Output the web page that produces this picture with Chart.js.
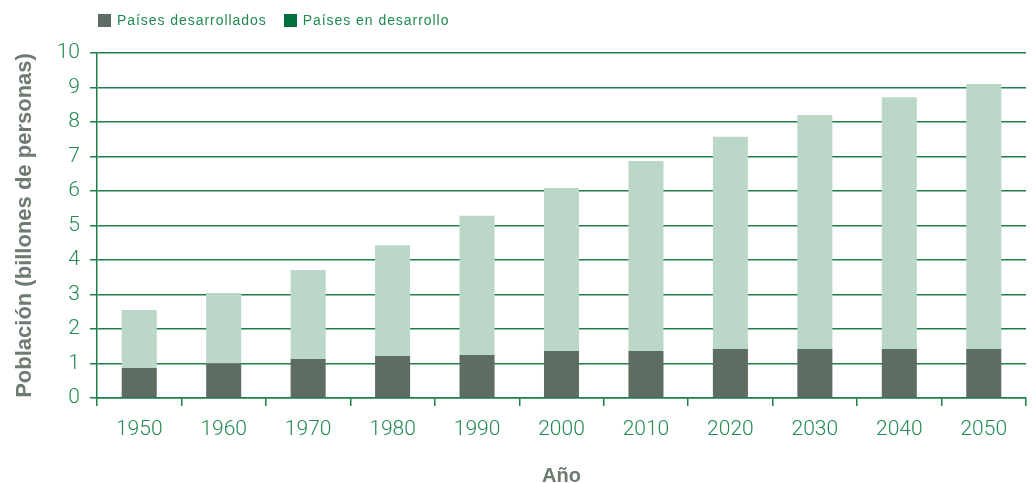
<!DOCTYPE html>
<html lang="es">
<head>
<meta charset="utf-8">
<script src="https://cdn.jsdelivr.net/npm/chart.js@4.4.1/dist/chart.umd.min.js"></script>
<style>
  html, body { margin: 0; padding: 0; background: #fff; }
  #wrap { position: relative; width: 1032px; height: 483px; }
  #legend {
    position: absolute; left: 98px; top: 12px;
    font-family: 'Liberation Sans', Arial, sans-serif; font-size: 14px;
    letter-spacing: 0.95px; color: #1f8a4f; display: flex; gap: 17px;
  }
  #legend span.item { display: flex; align-items: center; }
  #legend i { display: inline-block; width: 13px; height: 13px; margin-right: 6px; }
</style>
</head>
<body>
<div id="wrap">
  <canvas id="chart" width="1032" height="483"></canvas>
  <div id="legend"></div>
</div>
<script>
// Población mundial (billones de personas)
const years = ['1950', '1960', '1970', '1980', '1990', '2000', '2010', '2020', '2030', '2040', '2050'];
const desarrollados = [0.87, 1.00, 1.13, 1.22, 1.25, 1.36, 1.36, 1.42, 1.42, 1.42, 1.42];
const enDesarrollo = [1.68, 2.04, 2.58, 3.21, 4.03, 4.73, 5.51, 6.15, 6.78, 7.30, 7.68];
const yTicks = [0, 1, 2, 3, 4, 5, 6, 7, 8, 9, 10];

const GREEN = '#1f7d4c';
const TEXT_GREEN = '#228a52';
const GRAY = '#6d7b71';
const DARK = '#5d6d62';
const LIGHT = '#bad7c8';
const LEGEND_DEV = '#00703c';

const legendItems = [
  { label: 'Países desarrollados', color: DARK },
  { label: 'Países en desarrollo', color: LEGEND_DEV },
];
document.getElementById('legend').innerHTML = legendItems
  .map((it) => `<span class="item"><i style="background:${it.color}"></i>${it.label}</span>`)
  .join('');

new Chart(document.getElementById('chart'), {
  type: 'bar',
  data: {
    labels: years,
    datasets: [
      { label: 'Países desarrollados', data: desarrollados, backgroundColor: DARK },
      { label: 'Países en desarrollo', data: enDesarrollo, backgroundColor: LIGHT },
    ],
  },
  options: {
    responsive: false,
    animation: false,
    layout: { padding: { top: 53, right: 6, left: 0, bottom: 0 } },
    datasets: { bar: { categoryPercentage: 1, barPercentage: 0.415 } },
    plugins: {
      legend: { display: false },
      tooltip: { enabled: false },
    },
    scales: {
      x: {
        stacked: true,
        afterFit: (s) => { s.height = 85; },
        grid: { drawOnChartArea: false, drawTicks: true, tickLength: 8, color: GREEN, lineWidth: 1.5, offset: true },
        border: { color: GREEN, width: 1.5 },
        ticks: { color: TEXT_GREEN, font: { family: 'Roboto', size: 21, weight: '300' }, padding: 11 },
        title: {
          display: true, text: 'Año', color: GRAY,
          font: { family: 'Liberation Sans', size: 20, weight: 'bold' },
          padding: { top: 21, bottom: -5 },
        },
      },
      y: {
        stacked: true,
        min: 0,
        max: 10,
        afterFit: (s) => { s.width = 97; },
        afterBuildTicks: (s) => { s.ticks = yTicks.map((v) => ({ value: v })); },
        grid: { color: GREEN, lineWidth: 1.5, tickLength: 7 },
        border: { color: GREEN, width: 1.5 },
        ticks: { color: TEXT_GREEN, font: { family: 'Roboto', size: 21, weight: '300' }, padding: 10 },
        title: {
          display: true, text: 'Población (billones de personas)', color: GRAY,
          font: { family: 'Liberation Sans', size: 22, weight: 'bold' },
          padding: { top: 12, bottom: 4 },
        },
      },
    },
  },
});
</script>
</body>
</html>
